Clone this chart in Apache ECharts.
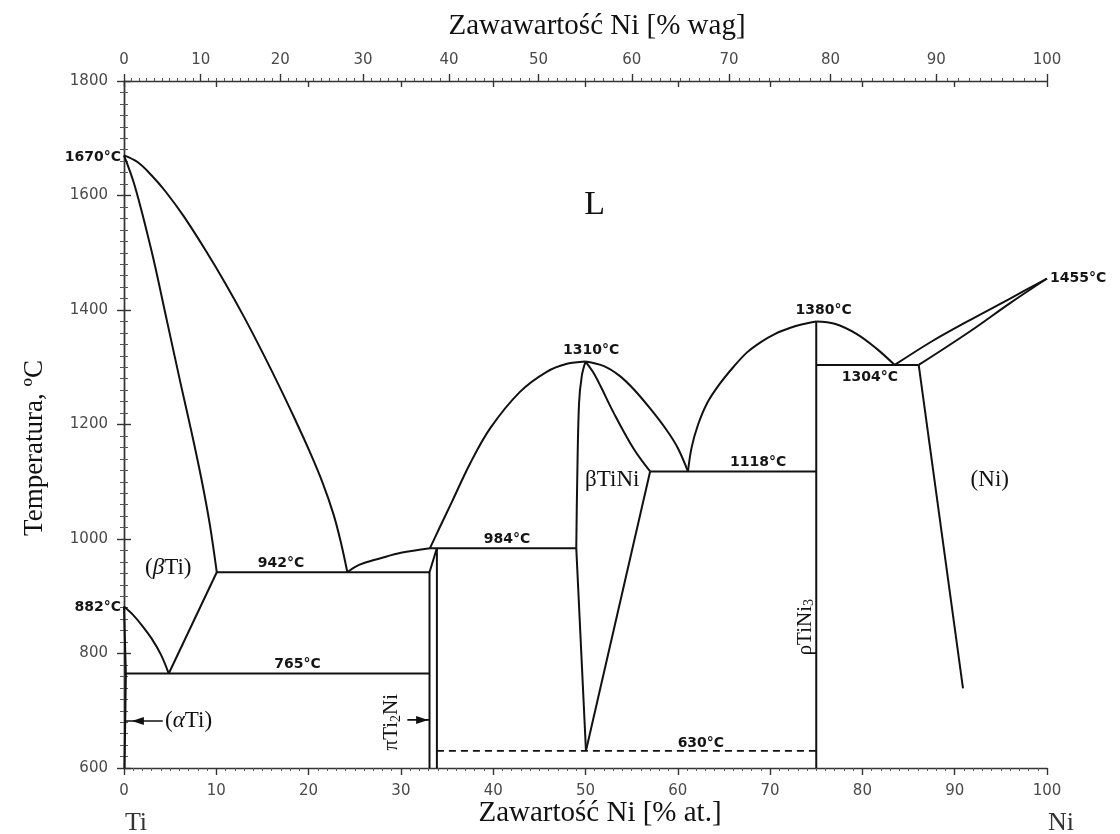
<!DOCTYPE html>
<html>
<head>
<meta charset="utf-8">
<script src="https://cdn.jsdelivr.net/npm/echarts@6/dist/echarts.min.js"></script>
<style>
  html, body { margin: 0; padding: 0; background: #fff; }
  #chart { width: 1120px; height: 834px; }
</style>
</head>
<body>
<div id="chart"></div>
<script>
// ---- Ti–Ni phase diagram ----------------------------------------------

// characteristic temperatures (°C)
const T_TI_MELT = 1670;
const T_NI_MELT = 1455;
const T_BETA_TRANSUS = 882;
const T_EUTECTOID = 765;
const T_EUTECTIC_TI = 942;
const T_PERITECTIC = 984;
const T_TINI_MAX = 1310;
const T_EUTECTIC_MID = 1118;
const T_TINI3_MAX = 1380;
const T_EUTECTIC_NI = 1304;
const T_ORDER = 630;

// axis ticks
const tempTicks = [600, 800, 1000, 1200, 1400, 1600, 1800];
const atTicks = [0, 10, 20, 30, 40, 50, 60, 70, 80, 90, 100];
const wtTicks = [0, 10, 20, 30, 40, 50, 60, 70, 80, 90, 100];

// phase boundaries: [at.% Ni, °C]
const tiLiquidus = [[0, T_TI_MELT], [1.5, 1658], [3, 1635], [4.5, 1607], [6.5, 1563], [9, 1500], [11, 1446],
  [13, 1388], [15, 1326], [17, 1261], [18.5, 1210], [20, 1157], [21.5, 1099], [22.7, 1043], [23.5, 994], [24.2, T_EUTECTIC_TI]];
const tiSolidus = [[0, T_TI_MELT], [1.2, 1615], [3.0, 1502], [4.6, 1385], [6.1, 1274], [7.3, 1188], [8.4, 1104], [9.3, 1025], [10.05, T_EUTECTIC_TI]];
const betaSolvus = [[4.85, T_EUTECTOID], [10.05, T_EUTECTIC_TI]];
const betaTransus = [[0, T_BETA_TRANSUS], [1, 867], [2, 848], [3, 826], [4, 798], [4.85, T_EUTECTOID]];
const alphaSolvus = [[0, T_BETA_TRANSUS], [0.2, T_EUTECTOID], [0.15, 700], [0.05, 600]];
const eutectoidLine = [[0.2, T_EUTECTOID], [33.1, T_EUTECTOID]];
const eutecticTiLine = [[10.05, T_EUTECTIC_TI], [33.1, T_EUTECTIC_TI]];
const ti2NiLeft = [[33.1, 600], [33.1, T_EUTECTIC_TI], [33.9, T_PERITECTIC]];
const ti2NiRight = [[33.9, 600], [33.9, T_PERITECTIC]];
const liquidusTi2Ni = [[24.2, T_EUTECTIC_TI], [25, 951], [26, 958], [27.7, 966], [30, 976], [33.15, T_PERITECTIC]];
const peritecticLine = [[33.15, T_PERITECTIC], [49.0, T_PERITECTIC]];
const tiNiLiquidusLeft = [[33.15, T_PERITECTIC], [34.2, 1020], [35.5, 1064], [37.5, 1132], [39.7, 1194], [42.9, 1257],
  [45.8, 1292], [48, 1306], [50, T_TINI_MAX]];
const tiNiLiquidusRight = [[50, T_TINI_MAX], [52, 1302], [53.7, 1285], [55.2, 1262], [57, 1228], [58.8, 1190], [60, 1159], [61.1, T_EUTECTIC_MID]];
const tiNiSolidusRight = [[50, T_TINI_MAX], [50.8, 1292], [51.6, 1268], [53, 1222], [55.2, 1158], [57, T_EUTECTIC_MID]];
const tiNiSolvusRight = [[57, T_EUTECTIC_MID], [50.05, T_ORDER]];
const tiNiLeftUpper = [[50, T_TINI_MAX], [49.6, 1285], [49.3, 1237], [49.1, 1100], [49.0, T_PERITECTIC]];
const tiNiLeftLower = [[49.0, T_PERITECTIC], [50.05, T_ORDER]];
const eutecticMidLine = [[57, T_EUTECTIC_MID], [75, T_EUTECTIC_MID]];
const tiNi3Line = [[75, 600], [75, T_TINI3_MAX]];
const tiNi3LiquidusLeft = [[61.1, T_EUTECTIC_MID], [61.5, 1160], [62.2, 1200], [63.2, 1238], [64.5, 1270], [66, 1300],
  [67.5, 1326], [69, 1344], [70.5, 1358], [72.2, 1369], [73.5, 1375], [75, T_TINI3_MAX]];
const tiNi3LiquidusRight = [[75, T_TINI3_MAX], [77, 1376], [79.4, 1358], [81.5, 1333], [83.5, T_EUTECTIC_NI]];
const eutecticNiLine = [[75, T_EUTECTIC_NI], [86.1, T_EUTECTIC_NI]];
const niLiquidus = [[83.5, T_EUTECTIC_NI], [87.5, 1345], [91.6, 1382], [96, 1420], [100, T_NI_MELT]];
const niSolidus = [[86.1, T_EUTECTIC_NI], [91.6, 1362], [96, 1412], [100, T_NI_MELT]];
const niSolvus = [[86.1, T_EUTECTIC_NI], [90.9, 739]];
const orderLine = [[33.9, T_ORDER], [75, T_ORDER]];

const straightBoundaries = [betaSolvus, alphaSolvus, eutectoidLine, eutecticTiLine, ti2NiLeft, ti2NiRight,
  peritecticLine, tiNiSolvusRight, tiNiLeftLower, eutecticMidLine, tiNi3Line, eutecticNiLine, niSolvus];
const curvedBoundaries = [tiLiquidus, tiSolidus, betaTransus, liquidusTi2Ni, tiNiLiquidusLeft, tiNiLiquidusRight,
  tiNiSolidusRight, tiNiLeftUpper, tiNi3LiquidusLeft, tiNi3LiquidusRight, niLiquidus, niSolidus];

// temperature notes: [text, at.% Ni, °C]
const tempNotes = [
  ['1670°C', 0, T_TI_MELT],
  ['882°C', 0, T_BETA_TRANSUS],
  ['1455°C', 100, T_NI_MELT],
  ['942°C', 17.0, T_EUTECTIC_TI],
  ['765°C', 18.8, T_EUTECTOID],
  ['984°C', 41.5, T_PERITECTIC],
  ['1310°C', 50.6, T_TINI_MAX],
  ['1118°C', 68.7, T_EUTECTIC_MID],
  ['1380°C', 75.8, T_TINI3_MAX],
  ['1304°C', 80.8, T_EUTECTIC_NI],
  ['630°C', 62.5, T_ORDER]
];

// phase field names: [rich text, at.% Ni, °C]
const phaseNotes = [
  ['{big|L}', 51.0, 1583],
  ['{s|(}{g|β}{s|Ti)}', 4.8, 949],
  ['{s|(}{g|α}{s|Ti)}', 7.0, 682],
  ['{s|βTiNi}', 52.9, 1103],
  ['{s|(Ni)}', 93.8, 1103]
];
const phaseNotesVertical = [
  ['{v|πTi}{sub|2}{v|Ni}', 29.0, 680],
  ['{v|ρTiNi}{sub|3}', 73.8, 846]
];

// pointer arrows: shaft ends and arrow head, [at.% Ni, °C]
const alphaArrow = [[0.2, 682], [4.2, 682]];
const alphaArrowHead = [1.5, 682];
const ti2NiArrow = [[30.7, 684], [33.1, 684]];
const ti2NiArrowHead = [32.3, 684];

// ---- composition conversion (atomic masses) -----------------------------
const M_TI = 47.867, M_NI = 58.693;
const wtToAt = w => 100 * (w / M_NI) / (w / M_NI + (100 - w) / M_TI);
const atToWt = a => 100 * (a * M_NI) / (a * M_NI + (100 - a) * M_TI);

const wtMinor = [];
for (let w = 1; w < 100; w++) if (w % 10 !== 0) wtMinor.push(wtToAt(w));

// ---- styles -------------------------------------------------------------
const TICK_FONT = { fontFamily: 'DejaVu Sans', fontSize: 15, color: '#4a4a4a' };
const AXIS_LINE = { lineStyle: { color: '#333', width: 1.4 } };
const SERIF = 'Liberation Serif';
const INK = '#111';

const noteLayout = {
  '1670°C': { position: 'left', distance: 3, offset: [0, 2] },
  '882°C': { position: 'left', distance: 3, offset: [0, 1] },
  '1455°C': { position: 'right', distance: 3, offset: [0, 0] },
  '942°C': { offset: [0, -9] },
  '765°C': { offset: [0, -9] },
  '984°C': { offset: [0, -9] },
  '1310°C': { offset: [0, -11] },
  '1118°C': { offset: [0, -9] },
  '1380°C': { offset: [0, -11] },
  '1304°C': { offset: [0, 12] },
  '630°C': { offset: [0, -7] }
};

const boundarySeries = (pts, smooth) => ({
  type: 'line', data: pts, showSymbol: false, symbol: 'none',
  smooth: smooth, lineStyle: { color: INK, width: 2 }, silent: true, z: 3
});

const series = [];
straightBoundaries.forEach(pts => series.push(boundarySeries(pts, false)));
curvedBoundaries.forEach(pts => series.push(boundarySeries(pts, 0.35)));
series.push({
  type: 'line', data: orderLine, symbol: 'none', showSymbol: false,
  lineStyle: { color: INK, width: 1.8, type: [7, 5] }, silent: true, z: 3
});
[alphaArrow, ti2NiArrow].forEach(pts => series.push({
  type: 'line', data: pts, symbol: 'none', showSymbol: false,
  lineStyle: { color: INK, width: 1.6 }, silent: true, z: 3
}));
series.push({
  type: 'scatter', symbol: 'triangle', symbolSize: [8, 12], silent: true, z: 4,
  itemStyle: { color: INK, opacity: 1 },
  data: [
    { value: alphaArrowHead, symbolRotate: 90 },
    { value: ti2NiArrowHead, symbolRotate: -90 }
  ]
});
series.push({
  type: 'scatter', symbolSize: 0, silent: true, z: 5, itemStyle: { opacity: 1 },
  data: tempNotes.map(([txt, x, t]) => ({
    value: [x, t],
    label: Object.assign({
      show: true, formatter: txt, position: 'inside', opacity: 1,
      fontFamily: 'DejaVu Sans', fontWeight: 'bold', fontSize: 14, color: '#151515'
    }, noteLayout[txt])
  }))
});
series.push({
  type: 'scatter', symbolSize: 0, silent: true, z: 5, itemStyle: { opacity: 1 },
  data: phaseNotes.map(([txt, x, t]) => ({ value: [x, t], label: { formatter: txt } })),
  label: {
    show: true, position: 'inside', color: INK, opacity: 1,
    rich: {
      big: { fontFamily: SERIF, fontSize: 34, color: INK },
      s: { fontFamily: SERIF, fontSize: 23, color: INK },
      g: { fontFamily: SERIF, fontSize: 23, fontStyle: 'italic', color: INK }
    }
  }
});
series.push({
  type: 'scatter', symbolSize: 0, silent: true, z: 5, itemStyle: { opacity: 1 },
  data: phaseNotesVertical.map(([txt, x, t]) => ({ value: [x, t], label: { formatter: txt } })),
  label: {
    show: true, position: 'inside', rotate: 90, color: INK, opacity: 1,
    rich: {
      v: { fontFamily: SERIF, fontSize: 21, color: INK },
      sub: { fontFamily: SERIF, fontSize: 14, color: INK, padding: [9, 0, 0, 0] }
    }
  }
});

const option = {
  animation: false,
  backgroundColor: '#fff',
  grid: { left: 124, right: 73, top: 81, bottom: 66, containLabel: false },
  xAxis: [
    { // at.% Ni, bottom
      type: 'value', position: 'bottom', min: 0, max: 100, interval: 10,
      axisLine: AXIS_LINE,
      axisTick: { length: 7, lineStyle: { color: '#333', width: 1.4 } },
      minorTick: { show: true, splitNumber: 10, length: 3, lineStyle: { color: '#555' } },
      axisLabel: Object.assign({ margin: 16, customValues: atTicks, formatter: v => String(v) }, TICK_FONT),
      splitLine: { show: false }
    },
    { // at.% Ni ticks on the top frame, pointing inward
      type: 'value', position: 'top', min: 0, max: 100, interval: 10,
      axisLine: AXIS_LINE,
      axisTick: { inside: true, length: 6, lineStyle: { color: '#333', width: 1.4 } },
      minorTick: { show: false },
      axisLabel: { show: false }, splitLine: { show: false }
    },
    { // wt.% Ni, top, major ticks and labels
      type: 'value', position: 'top', min: 0, max: 100,
      axisLine: { show: false },
      axisTick: { length: 7, customValues: wtTicks.map(wtToAt), lineStyle: { color: '#333', width: 1.4 } },
      axisLabel: Object.assign({
        margin: 13, customValues: wtTicks.map(wtToAt),
        formatter: v => String(Math.round(atToWt(v)))
      }, TICK_FONT),
      splitLine: { show: false }
    },
    { // wt.% Ni, top, minor ticks
      type: 'value', position: 'top', min: 0, max: 100,
      axisLine: { show: false },
      axisTick: { length: 3, customValues: wtMinor, lineStyle: { color: '#555' } },
      axisLabel: { show: false }, splitLine: { show: false }
    }
  ],
  yAxis: [
    {
      type: 'value', position: 'left', min: 600, max: 1800, interval: 200,
      axisLine: AXIS_LINE,
      axisTick: { length: 7, lineStyle: { color: '#333', width: 1.4 } },
      minorTick: { show: true, splitNumber: 10, length: 4, lineStyle: { color: '#555' } },
      axisLabel: Object.assign({ margin: 16, customValues: tempTicks, formatter: v => String(v) }, TICK_FONT),
      splitLine: { show: false }
    },
    {
      type: 'value', position: 'right', min: 600, max: 1800, interval: 200,
      axisLine: AXIS_LINE,
      axisTick: { length: 7, lineStyle: { color: '#333', width: 1.4 } },
      minorTick: { show: true, splitNumber: 10, length: 4, lineStyle: { color: '#555' } },
      axisLabel: { show: false }, splitLine: { show: false }
    }
  ],
  graphic: [
    { type: 'text', x: 597, y: 26, style: { text: 'Zawawartość Ni [% wag]', font: '29px "Liberation Serif"', fill: INK, align: 'center', verticalAlign: 'middle' } },
    { type: 'text', x: 600, y: 813, style: { text: 'Zawartość Ni [% at.]', font: '29px "Liberation Serif"', fill: INK, align: 'center', verticalAlign: 'middle' } },
    { type: 'text', x: 35, y: 448, rotation: Math.PI / 2, style: { text: 'Temperatura, ºC', font: '27px "Liberation Serif"', fill: INK, align: 'center', verticalAlign: 'middle' } },
    { type: 'text', x: 136, y: 823, style: { text: 'Ti', font: '26px "Liberation Serif"', fill: '#333', align: 'center', verticalAlign: 'middle' } },
    { type: 'text', x: 1061, y: 823, style: { text: 'Ni', font: '26px "Liberation Serif"', fill: '#333', align: 'center', verticalAlign: 'middle' } }
  ],
  series: series
};

const chart = echarts.init(document.getElementById('chart'), null, { renderer: 'canvas' });
chart.setOption(option);
</script>
</body>
</html>
